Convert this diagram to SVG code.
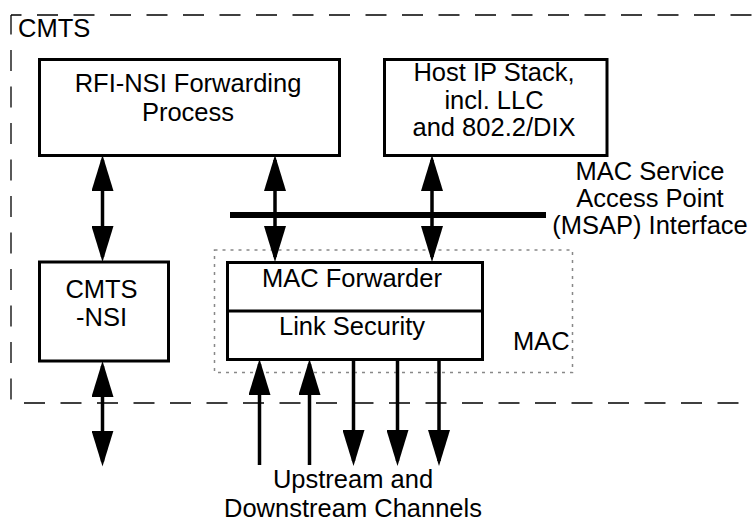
<svg xmlns="http://www.w3.org/2000/svg" width="754" height="522" viewBox="0 0 754 522">
<style>
text{font-family:"Liberation Sans",Arial,Helvetica,sans-serif;font-size:25.5px;fill:#000}
.c{text-anchor:middle}
.box{fill:#fff;stroke:#000;stroke-width:3}
.border{fill:none;stroke:#000;stroke-width:1.3;stroke-dasharray:21 15.5}
.dot{fill:none;stroke:#888;stroke-width:1.5;stroke-dasharray:3 5}
.conn{fill:none;stroke:#000;stroke-width:3.5}
</style>
<defs>
<marker id="ah" markerWidth="36" markerHeight="22" refX="31" refY="11" orient="auto-start-reverse" markerUnits="userSpaceOnUse">
<path d="M0,0 L36,11 L0,22 z" fill="#000"/>
</marker>
</defs>
<rect width="754" height="522" fill="#fff"/>
<g id="cmts">
<line class="border" x1="11" y1="15" x2="754" y2="15" stroke-dashoffset="10.5"/>
<line class="border" x1="11" y1="15" x2="11" y2="402" stroke-dashoffset="1.5"/>
<line class="border" x1="24" y1="403" x2="754" y2="403"/>
<text x="18" y="37">CMTS</text>
</g>
<g id="mac">
<rect class="dot" x="214.5" y="250" width="358" height="122.5"/>
<text x="513" y="350">MAC</text>
</g>
<g id="rfi-nsi">
<rect class="box" x="39.5" y="59.5" width="300" height="96"/>
<text class="c" x="188" y="91.5">RFI-NSI Forwarding</text>
<text class="c" x="188" y="120.5">Process</text>
</g>
<g id="host-ip">
<rect class="box" x="384.5" y="59.5" width="222.5" height="96"/>
<text class="c" x="494" y="81">Host IP Stack,</text>
<text class="c" x="494" y="108.5">incl. LLC</text>
<text class="c" x="494" y="136">and 802.2/DIX</text>
</g>
<g id="cmts-nsi">
<rect class="box" x="39.5" y="262" width="129" height="99"/>
<text class="c" x="101.5" y="298">CMTS</text>
<text class="c" x="101.5" y="326">-NSI</text>
</g>
<g id="mac-forwarder">
<rect class="box" x="227.5" y="262.5" width="255" height="97"/>
<line x1="227.5" y1="311" x2="482.5" y2="311" stroke="#000" stroke-width="3"/>
<text class="c" x="352" y="287">MAC Forwarder</text>
<text class="c" x="352" y="334.5">Link Security</text>
</g>
<g id="msap">
<line x1="230" y1="215" x2="546" y2="215" stroke="#000" stroke-width="6"/>
<text class="c" x="650" y="180">MAC Service</text>
<text class="c" x="650" y="207">Access Point</text>
<text class="c" x="650" y="234">(MSAP) Interface</text>
</g>
<g id="channels">
<text class="c" x="353" y="488">Upstream and</text>
<text class="c" x="353" y="516.5">Downstream Channels</text>
</g>
<g id="connectors">
<path class="conn" d="M102.5,160 V257" marker-start="url(#ah)" marker-end="url(#ah)"/>
<path class="conn" d="M102.5,366 V461.5" marker-start="url(#ah)" marker-end="url(#ah)"/>
<path class="conn" d="M275,160 V257" marker-start="url(#ah)" marker-end="url(#ah)"/>
<path class="conn" d="M432,160 V257" marker-start="url(#ah)" marker-end="url(#ah)"/>
<path class="conn" d="M259.5,465 V364" marker-end="url(#ah)"/>
<path class="conn" d="M309.5,465 V364" marker-end="url(#ah)"/>
<path class="conn" d="M353.5,359 V461" marker-end="url(#ah)"/>
<path class="conn" d="M397.5,359 V461" marker-end="url(#ah)"/>
<path class="conn" d="M439,359 V461" marker-end="url(#ah)"/>
</g>
</svg>
